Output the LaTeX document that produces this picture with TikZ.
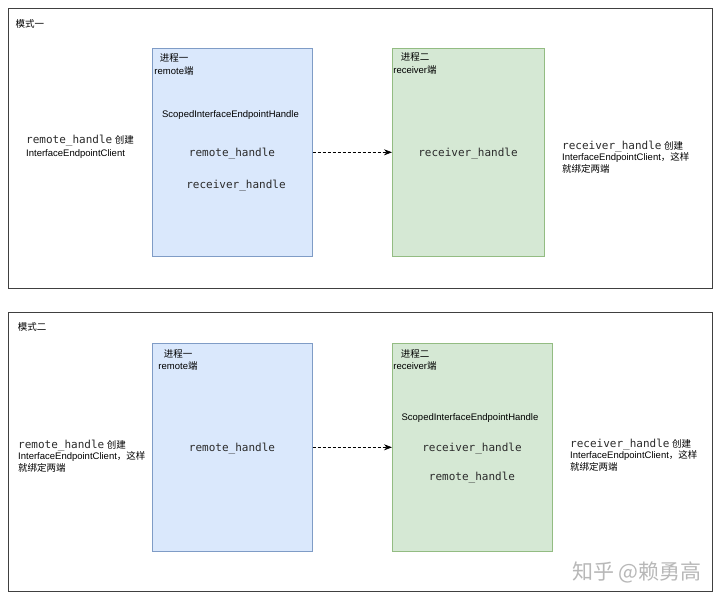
\documentclass[tikz,border=0pt]{standalone}
\usepackage{fontspec}
\setmainfont{Liberation Sans}
\newfontfamily\cjk{Noto Sans CJK SC}
\newfontfamily\codefont{DejaVu Sans Mono}
\usetikzlibrary{arrows.meta,positioning}
\definecolor{procblue}{HTML}{DAE8FC}
\definecolor{procblueline}{HTML}{7F9CC6}
\definecolor{procgreen}{HTML}{D5E8D4}
\definecolor{procgreenline}{HTML}{93BC82}
\definecolor{codegray}{HTML}{2A2A2A}

\begin{document}
\begin{tikzpicture}[x=1pt,y=-1pt,
  modeframe/.style={draw=black!75,line width=0.9pt,inner sep=0,anchor=north west},
  procA/.style={draw=procblueline,fill=procblue,line width=0.6pt,inner sep=0,anchor=north west,minimum width=160pt,minimum height=208pt},
  procB/.style={draw=procgreenline,fill=procgreen,line width=0.6pt,inner sep=0,anchor=north west,minimum height=208pt},
  lbl/.style={inner sep=0,font=\fontsize{9.5}{12.5}\selectfont},
  handle/.style={inner sep=0,text=codegray,font=\codefont\fontsize{11}{13}\selectfont},
  link/.style={densely dashed,line width=0.7pt,-{Stealth[length=8pt,width=6pt]}}]
\useasboundingbox[fill=white] (0,0) rectangle (720,600);

%模式一
\node[modeframe,minimum width=704pt,minimum height=280pt] (frameA) at (8,8) {};
\node[lbl] (modeA) at (30,24) {\cjk 模式一};
\node[procA] (remoteA) at (152,48) {};
\node[procB,minimum width=152pt] (receiverA) at (392,48) {};
\node[lbl,align=center] (remoteAtitle) at (174,64.5) {{\cjk 进程一}\\remote{\cjk 端}};
\node[lbl] (scopedA) at (230.5,115) {ScopedInterfaceEndpointHandle};
\node[handle] (remoteAh) at (232,153.5) {remote\_handle};
\node[handle] (receiverAh) at (236,185.5) {receiver\_handle};
\node[lbl,align=center] (receiverAtitle) at (415,63.5) {{\cjk 进程二}\\receiver{\cjk 端}};
\node[handle] (receiverAh2) at (468,153.5) {receiver\_handle};
\node[lbl,align=left,anchor=west] (noteA1) at (26,147) {{\codefont\fontsize{11}{13}\selectfont\color{codegray}remote\_handle} {\cjk 创建}\\InterfaceEndpointClient};
\node[lbl,align=left,anchor=west,font=\fontsize{9.5}{11.8}\selectfont] (noteA2) at (562,157) {{\codefont\fontsize{11}{13}\selectfont\color{codegray}receiver\_handle} {\cjk 创建}\\InterfaceEndpointClient{\cjk ，这样}\\{\cjk 就绑定两端}};
\draw[link] (remoteA.east) -- (receiverA.west);

%模式二
\node[modeframe,minimum width=704pt,minimum height=279pt] (frameB) at (8,312) {};
\node[lbl] (modeB) at (32,327) {\cjk 模式二};
\node[procA] (remoteB) at (152,343) {};
\node[procB,minimum width=160pt] (receiverB) at (392,343) {};
\node[lbl,align=center] (remoteBtitle) at (178,360) {{\cjk 进程一}\\remote{\cjk 端}};
\node[handle] (remoteBh) at (232,448.5) {remote\_handle};
\node[lbl,align=center] (receiverBtitle) at (415,360) {{\cjk 进程二}\\receiver{\cjk 端}};
\node[lbl] (scopedB) at (470,418) {ScopedInterfaceEndpointHandle};
\node[handle] (receiverBh) at (472,448.5) {receiver\_handle};
\node[handle] (remoteBh2) at (472,477.5) {remote\_handle};
\node[lbl,align=left,anchor=west,font=\fontsize{9.5}{11.8}\selectfont] (noteB1) at (18,456) {{\codefont\fontsize{11}{13}\selectfont\color{codegray}remote\_handle} {\cjk 创建}\\InterfaceEndpointClient{\cjk ，这样}\\{\cjk 就绑定两端}};
\node[lbl,align=left,anchor=west,font=\fontsize{9.5}{11.8}\selectfont] (noteB2) at (570,455) {{\codefont\fontsize{11}{13}\selectfont\color{codegray}receiver\_handle} {\cjk 创建}\\InterfaceEndpointClient{\cjk ，这样}\\{\cjk 就绑定两端}};
\draw[link] (remoteB.east) -- (receiverB.west);

\node[inner sep=0,anchor=east,text=black!28,font=\cjk\fontsize{21}{23}\selectfont] (mark) at (702,572) {知乎 @赖勇高};
\end{tikzpicture}
\end{document}
